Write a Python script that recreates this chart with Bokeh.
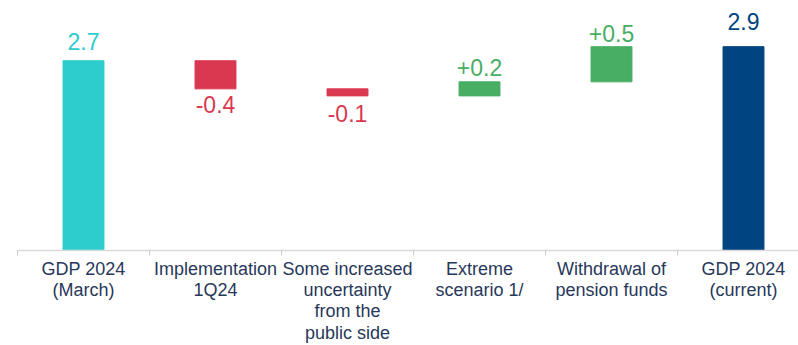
from bokeh.plotting import figure
from bokeh.models import Range1d, FixedTicker, LinearAxis, ColumnDataSource
from bokeh.embed import file_html
from bokeh.resources import INLINE
from bokeh.core.properties import value

# ---- data ----
categories = ["GDP 2024\n(March)", "Implementation\n1Q24",
              "Some increased\nuncertainty\nfrom the\npublic side",
              "Extreme\nscenario 1/", "Withdrawal of\npension funds",
              "GDP 2024\n(current)"]
start_value = 2.7
changes = [-0.4, -0.1, 0.2, 0.5]
end_value = 2.9
value_labels = ["2.7", "-0.4", "-0.1", "+0.2", "+0.5", "2.9"]

# ---- style ----
TEAL = "#2DCCCD"
RED = "#DA3851"
GREEN = "#48AE64"
NAVY = "#004481"
TEXT = "#27385A"
FONT = "Liberation Sans"

# waterfall geometry from data
bottoms, tops, colors = [0.0], [start_value], [TEAL]
level = start_value
for c in changes:
    new = level + c
    bottoms.append(min(level, new))
    tops.append(max(level, new))
    colors.append(GREEN if c > 0 else RED)
    level = new
bottoms.append(0.0)
tops.append(end_value)
colors.append(NAVY)

n = len(categories)
centers = [i + 0.5 for i in range(n)]
is_neg = [False] + [c < 0 for c in changes] + [False]
label_y = [b if neg else t for b, t, neg in zip(bottoms, tops, is_neg)]
label_dy = [-19.7, 16, 18, -14, -13.6, -25.3]  # pixel offsets (style)

src = ColumnDataSource(dict(x=centers, bottom=bottoms, top=tops, color=colors,
                            ly=label_y, txt=value_labels, dy=label_dy))

p = figure(width=798, height=345, output_backend="svg", toolbar_location=None,
           x_range=Range1d(0, 781 / 132), y_range=Range1d(0, 249 / 70),
           x_axis_location=None, y_axis_location=None,
           min_border_left=17, min_border_right=0, min_border_top=0,
           min_border_bottom=0)
p.outline_line_color = None
p.xgrid.visible = False
p.ygrid.visible = False
p.background_fill_color = "white"

p.vbar(x="x", bottom="bottom", top="top", width=0.31, color="color", source=src)
p.text(x="x", y="ly", text="txt", text_color="color", y_offset="dy",
       text_align="center", text_baseline="alphabetic",
       text_font=value(FONT), text_font_size="23px", source=src)

ax = LinearAxis(ticker=FixedTicker(ticks=centers, minor_ticks=list(range(n + 1))))
ax.major_label_overrides = {c: lab for c, lab in zip(centers, categories)}
ax.axis_line_color = "#D9D9D9"
ax.axis_line_width = 1.5
ax.major_tick_line_color = None
ax.major_tick_out = 0
ax.major_tick_in = 0
ax.minor_tick_line_color = "#C8C8C8"
ax.minor_tick_line_width = 1
ax.minor_tick_out = 5
ax.minor_tick_in = 0
ax.major_label_standoff = 3
ax.major_label_text_font = FONT
ax.major_label_text_font_size = "18px"
ax.major_label_text_color = TEXT
ax.major_label_text_line_height = 1.07
p.add_layout(ax, "below")

open("out.html", "w").write(file_html(p, INLINE))
